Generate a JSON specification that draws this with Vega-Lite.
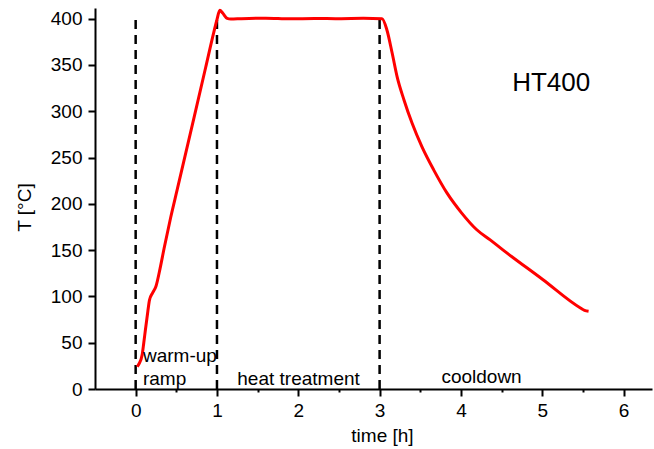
{
  "$schema": "https://vega.github.io/schema/vega-lite/v6.json",
  "width": 557,
  "height": 381,
  "autosize": {"type": "none"},
  "padding": {"left": 95, "top": 8, "right": 2, "bottom": 60},
  "background": "white",
  "config": {
    "view": {"stroke": null},
    "font": "Liberation Sans",
    "axis": {
      "grid": false,
      "domainColor": "black",
      "domainWidth": 2,
      "tickColor": "black",
      "tickWidth": 2,
      "labelColor": "black",
      "labelFont": "Liberation Sans",
      "labelFontSize": 19,
      "labelOverlap": false,
      "labelFlush": false,
      "titleFont": "Liberation Sans",
      "titleFontWeight": "normal",
      "titleColor": "black",
      "titleFontSize": 19
    }
  },
  "datasets": {
    "profile": [
      {"time": 0.02, "T": 24},
      {"time": 0.04, "T": 27},
      {"time": 0.08, "T": 37},
      {"time": 0.10, "T": 50},
      {"time": 0.12, "T": 64},
      {"time": 0.15, "T": 84},
      {"time": 0.17, "T": 96},
      {"time": 0.21, "T": 104},
      {"time": 0.25, "T": 111},
      {"time": 0.30, "T": 130},
      {"time": 0.35, "T": 152},
      {"time": 0.43, "T": 185},
      {"time": 0.51, "T": 215},
      {"time": 0.72, "T": 294},
      {"time": 0.86, "T": 347},
      {"time": 0.96, "T": 385},
      {"time": 1.00, "T": 399},
      {"time": 1.035, "T": 409},
      {"time": 1.07, "T": 406},
      {"time": 1.125, "T": 400.3},
      {"time": 1.17, "T": 399.6},
      {"time": 1.30, "T": 400},
      {"time": 1.60, "T": 400.5},
      {"time": 1.90, "T": 399.8},
      {"time": 2.20, "T": 400.2},
      {"time": 2.50, "T": 400},
      {"time": 2.80, "T": 400.3},
      {"time": 3.03, "T": 400},
      {"time": 3.09, "T": 387.8},
      {"time": 3.155, "T": 362.6},
      {"time": 3.215, "T": 337.4},
      {"time": 3.30, "T": 312.2},
      {"time": 3.40, "T": 287},
      {"time": 3.52, "T": 261.8},
      {"time": 3.665, "T": 236.7},
      {"time": 3.83, "T": 211.5},
      {"time": 4.01, "T": 190},
      {"time": 4.195, "T": 172},
      {"time": 4.36, "T": 161},
      {"time": 4.52, "T": 150},
      {"time": 5.01, "T": 118},
      {"time": 5.47, "T": 87.5},
      {"time": 5.52, "T": 85},
      {"time": 5.57, "T": 84}
    ],
    "phases": [
      {"time": 0, "bottom": 0, "top": 404},
      {"time": 1, "bottom": 0, "top": 404},
      {"time": 3, "bottom": 0, "top": 404}
    ],
    "labels": [
      {"time": 0.09, "T": 29.5, "text": "warm-up"},
      {"time": 0.09, "T": 4.6, "text": "ramp"},
      {"time": 1.25, "T": 4.6, "text": "heat treatment"},
      {"time": 3.76, "T": 7, "text": "cooldown"}
    ],
    "tag": [
      {"time": 4.63, "T": 330, "text": "HT400"}
    ]
  },
  "layer": [
    {
      "data": {"name": "phases"},
      "mark": {"type": "rule", "color": "black", "strokeWidth": 2.5, "strokeDash": [9, 6]},
      "encoding": {
        "x": {"field": "time", "type": "quantitative"},
        "y": {"field": "bottom", "type": "quantitative"},
        "y2": {"field": "top"}
      }
    },
    {
      "data": {"name": "profile"},
      "mark": {"type": "line", "color": "#ff0000", "strokeWidth": 3, "interpolate": "monotone"},
      "encoding": {
        "x": {
          "field": "time",
          "type": "quantitative",
          "scale": {"domain": [-0.5, 6.35], "nice": false, "zero": false},
          "axis": {
            "title": "time [h]",
            "format": "~g",
            "values": [0, 0.5, 1, 1.5, 2, 2.5, 3, 3.5, 4, 4.5, 5, 5.5, 6],
            "labelExpr": "datum.value % 1 ? '' : datum.label",
            "tickSize": {"condition": {"test": "datum.value % 1 !== 0", "value": 3}, "value": 7},
            "labelPadding": 5,
            "titleX": 287,
            "titleY": 52,
            "titleBaseline": "alphabetic",
            "titleAlign": "center"
          }
        },
        "y": {
          "field": "T",
          "type": "quantitative",
          "scale": {"domain": [0, 411.5], "nice": false},
          "axis": {
            "title": "T [°C]",
            "values": [0, 25, 50, 75, 100, 125, 150, 175, 200, 225, 250, 275, 300, 325, 350, 375, 400],
            "labelExpr": "datum.value % 50 ? '' : datum.label",
            "tickSize": {"condition": {"test": "datum.value % 50 !== 0", "value": 3}, "value": 7},
            "labelPadding": 6,
            "titleX": -71,
            "titleY": 199,
            "titleBaseline": "middle",
            "titleAlign": "center",
            "titleAngle": 270
          }
        }
      }
    },
    {
      "data": {"name": "labels"},
      "mark": {"type": "text", "align": "left", "baseline": "alphabetic", "fontSize": 19, "font": "Liberation Sans", "color": "black"},
      "encoding": {
        "x": {"field": "time", "type": "quantitative"},
        "y": {"field": "T", "type": "quantitative"},
        "text": {"field": "text", "type": "nominal"}
      }
    },
    {
      "data": {"name": "tag"},
      "mark": {"type": "text", "align": "left", "baseline": "middle", "fontSize": 26, "font": "Liberation Sans", "color": "black"},
      "encoding": {
        "x": {"field": "time", "type": "quantitative"},
        "y": {"field": "T", "type": "quantitative"},
        "text": {"field": "text", "type": "nominal"}
      }
    }
  ]
}
